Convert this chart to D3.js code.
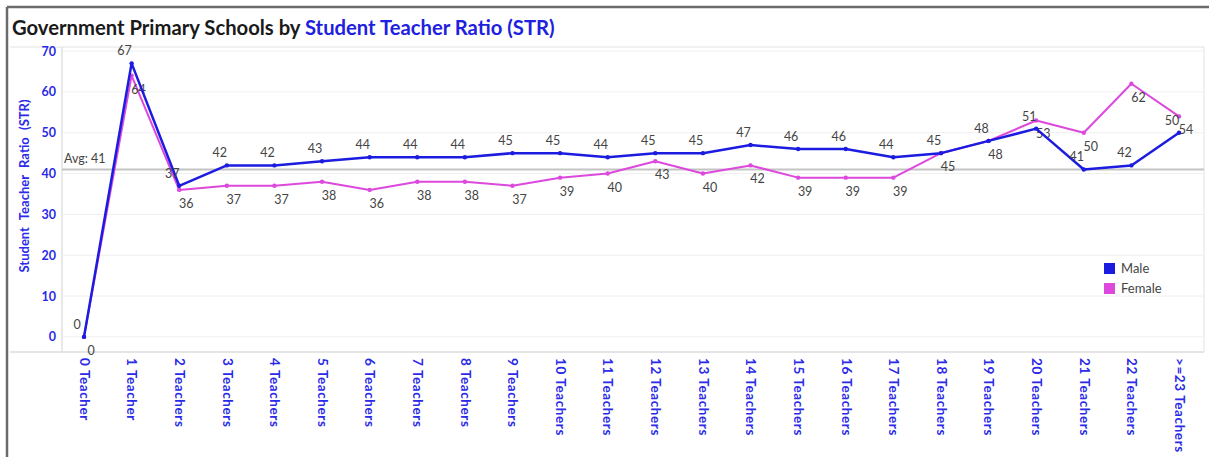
<!DOCTYPE html>
<html>
<head>
<meta charset="utf-8">
<script src="https://cdn.jsdelivr.net/npm/d3@7"></script>
<style>
  body { margin: 0; background: #fff; }
  text { font-family: Lato, "Open Sans", sans-serif; }
</style>
</head>
<body>
<div id="chart"></div>
<script>
var categories = ["0 Teacher", "1 Teacher", "2 Teachers", "3 Teachers", "4 Teachers", "5 Teachers",
  "6 Teachers", "7 Teachers", "8 Teachers", "9 Teachers", "10 Teachers", "11 Teachers",
  "12 Teachers", "13 Teachers", "14 Teachers", "15 Teachers", "16 Teachers", "17 Teachers",
  "18 Teachers", "19 Teachers", "20 Teachers", "21 Teachers", "22 Teachers", ">=23 Teachers"];
var male = [0, 67, 37, 42, 42, 43, 44, 44, 44, 45, 45, 44, 45, 45, 47, 46, 46, 44, 45, 48, 51, 41, 42, 50];
var female = [0, 64, 36, 37, 37, 38, 36, 38, 38, 37, 39, 40, 43, 40, 42, 39, 39, 39, 45, 48, 53, 50, 62, 54];
var yTicks = [0, 10, 20, 30, 40, 50, 60, 70];
var avgValue = 41;

var W = 1209, H = 457;
var plot = {left: 62, right: 1204, top: 47, bottom: 352};
var blue = "#1c1ce0", pink = "#dd48dd", axisBlue = "#2a2ae8";

var svg = d3.select("#chart")
  .append("svg")
    .attr("width", W)
    .attr("height", H);

// frame
svg.append("line").attr("x1", 7).attr("x2", W).attr("y1", 7).attr("y2", 7)
  .attr("stroke", "#6b6b6b").attr("stroke-width", 2.5);
svg.append("line").attr("x1", 7).attr("x2", 7).attr("y1", 7).attr("y2", H)
  .attr("stroke", "#6b6b6b").attr("stroke-width", 2.5);

// title
var title = svg.append("text")
  .attr("x", 12)
  .attr("y", 35)
  .attr("font-weight", "bold")
  .attr("font-size", 18);
title.append("tspan").attr("fill", "#1a1a1a").text("Government Primary Schools by ");
title.append("tspan").attr("fill", "#2020e0").text("Student Teacher Ratio (STR)");
var tl = title.node().getComputedTextLength();
title.attr("font-size", 18 * 543 / tl);

var x = d3.scalePoint()
  .domain(categories)
  .range([84, 1179]);

var y = d3.scaleLinear()
  .domain([-3.7, 71])
  .range([plot.bottom, plot.top]);

// plot frame
svg.append("line").attr("x1", 10).attr("x2", plot.right).attr("y1", plot.top).attr("y2", plot.top)
  .attr("stroke", "#e2e2e2");
svg.append("line").attr("x1", 10).attr("x2", plot.right).attr("y1", plot.bottom).attr("y2", plot.bottom)
  .attr("stroke", "#dcdcdc").attr("stroke-width", 1.5);
svg.append("line").attr("x1", plot.left).attr("x2", plot.left).attr("y1", plot.top).attr("y2", plot.bottom)
  .attr("stroke", "#e0e0e0").attr("stroke-width", 1.5);
svg.append("line").attr("x1", plot.right).attr("x2", plot.right).attr("y1", plot.top).attr("y2", plot.bottom)
  .attr("stroke", "#e2e2e2");

// grid
svg.append("g")
  .selectAll("line")
  .data(yTicks)
  .enter()
  .append("line")
    .attr("x1", plot.left)
    .attr("x2", plot.right)
    .attr("y1", function(d) { return y(d); })
    .attr("y2", function(d) { return y(d); })
    .attr("stroke", "#efefef");

// y axis
var yAxis = svg.append("g")
  .attr("transform", "translate(56,0)")
  .call(d3.axisLeft(y).tickValues(yTicks).tickSize(0).tickPadding(0));
yAxis.select(".domain").remove();
yAxis.selectAll("text")
  .attr("font-family", "Lato, sans-serif")
  .attr("font-size", 12.5)
  .attr("font-weight", "bold")
  .attr("fill", axisBlue);

var yTitle = svg.append("text")
  .attr("transform", "translate(29,186) rotate(-90)")
  .attr("text-anchor", "middle")
  .attr("font-size", 13)
  .attr("font-weight", "bold")
  .attr("fill", axisBlue)
  .text("Student Teacher Ratio (STR)");
// spread the words a little like the original
var yl = yTitle.node().getComputedTextLength();
yTitle.attr("word-spacing", Math.max(0, (173 - yl) / 3));

// x axis
var xAxis = svg.append("g")
  .attr("transform", "translate(0," + plot.bottom + ")")
  .call(d3.axisBottom(x).tickSize(0));
xAxis.select(".domain").remove();
xAxis.selectAll("text")
  .attr("transform", "rotate(90)")
  .attr("x", 6)
  .attr("y", 0)
  .attr("dy", ".35em")
  .style("text-anchor", "start")
  .attr("font-family", "Lato, sans-serif")
  .attr("font-size", 13.5)
  .attr("letter-spacing", 0.6)
  .attr("font-weight", "bold")
  .attr("fill", axisBlue);

// average line
svg.append("line")
  .attr("x1", plot.left)
  .attr("x2", plot.right)
  .attr("y1", y(avgValue))
  .attr("y2", y(avgValue))
  .attr("stroke", "#c4c4c4")
  .attr("stroke-width", 2);
svg.append("text")
  .attr("x", 64)
  .attr("y", y(avgValue) - 6)
  .attr("font-size", 12.5)
  .attr("fill", "#444")
  .text("Avg: " + avgValue);

var line = d3.line()
  .x(function(d, i) { return x(categories[i]); })
  .y(function(d) { return y(d); });

function drawSeries(values, color, width, labelDx, labelDy) {
  svg.append("path")
    .datum(values)
    .attr("d", line)
    .attr("fill", "none")
    .attr("stroke", color)
    .attr("stroke-width", width)
    .attr("stroke-linejoin", "round");

  svg.append("g")
    .selectAll("circle")
    .data(values)
    .enter()
    .append("circle")
      .attr("cx", function(d, i) { return x(categories[i]); })
      .attr("cy", function(d) { return y(d); })
      .attr("r", 2.2)
      .attr("fill", color);

  svg.append("g")
    .selectAll("text")
    .data(values)
    .enter()
    .append("text")
      .attr("x", function(d, i) { return x(categories[i]) + labelDx; })
      .attr("y", function(d) { return y(d) + labelDy; })
      .attr("text-anchor", "middle")
      .attr("font-size", 12.5)
      .attr("fill", "#444")
      .text(function(d) { return d; });
}

drawSeries(female, pink, 2, 7, 18);
drawSeries(male, blue, 2.5, -7, -8);

// legend
var legend = [{name: "Male", color: blue}, {name: "Female", color: pink}];
var lg = svg.append("g")
  .selectAll("g")
  .data(legend)
  .enter()
  .append("g")
    .attr("transform", function(d, i) { return "translate(1104," + (263 + i * 20) + ")"; });
lg.append("rect")
  .attr("width", 11)
  .attr("height", 11)
  .attr("fill", function(d) { return d.color; });
lg.append("text")
  .attr("x", 17)
  .attr("y", 10)
  .attr("font-size", 13)
  .attr("fill", "#444")
  .text(function(d) { return d.name; });
</script>
</body>
</html>
